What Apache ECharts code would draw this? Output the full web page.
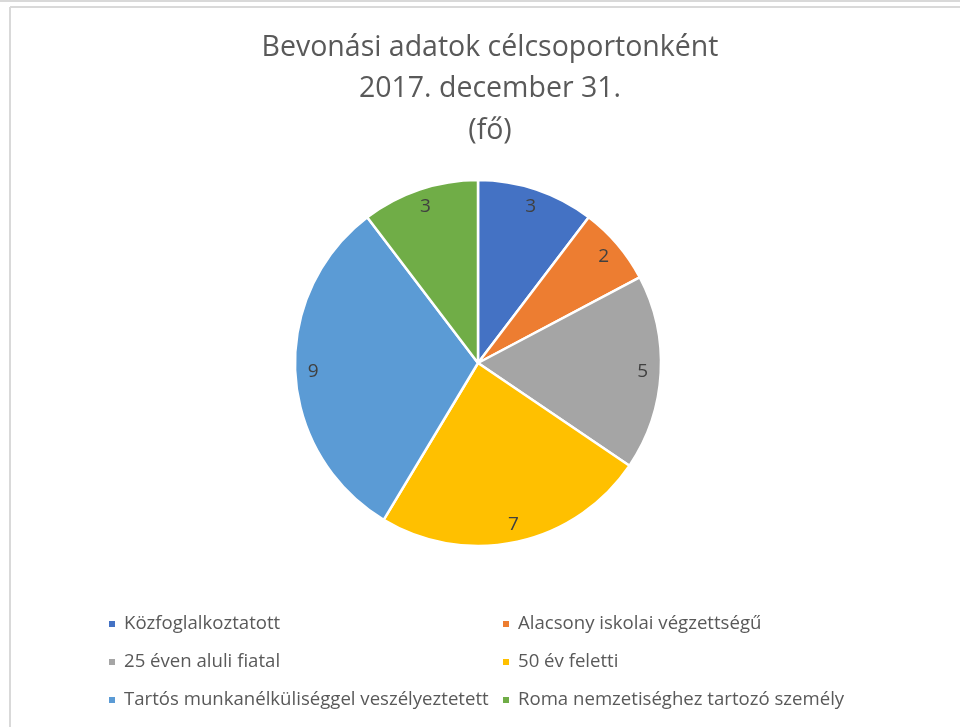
<!DOCTYPE html>
<html>
<head>
<meta charset="utf-8">
<script src="https://cdn.jsdelivr.net/npm/echarts@6/dist/echarts.min.js"></script>
<style>html,body{margin:0;padding:0;background:#fff;}#c{width:960px;height:727px;}</style>
</head>
<body>
<div id="c"></div>
<script>
const titleLines = ['Bevonási adatok célcsoportonként', '2017. december 31.', '(fő)'];
const categories = [
  'Közfoglalkoztatott',
  'Alacsony iskolai végzettségű',
  '25 éven aluli fiatal',
  '50 év feletti',
  'Tartós munkanélküliséggel veszélyeztetett',
  'Roma nemzetiséghez tartozó személy'
];
const values = [3, 2, 5, 7, 9, 3];
const colors = ['#4472C4', '#ED7D31', '#A5A5A5', '#FFC000', '#5B9BD5', '#70AD47'];

const FONT = '"Open Sans"';
const pieData = categories.map((n, i) => ({ name: n, value: values[i], itemStyle: { color: colors[i] } }));
const labelData = categories.map((n, i) => ({ name: n, value: values[i] }));

const chart = echarts.init(document.getElementById('c'), null, { renderer: 'canvas' });
chart.setOption({
  animation: false,
  backgroundColor: '#ffffff',
  graphic: [
    { type: 'rect', shape: { x: 0, y: 0, width: 960, height: 2 }, style: { fill: '#d9d9d9' }, silent: true },
    { type: 'line', shape: { x1: 10, y1: 7, x2: 960, y2: 7 }, style: { stroke: '#d9d9d9', lineWidth: 2 }, silent: true },
    { type: 'line', shape: { x1: 10, y1: 7, x2: 10, y2: 727 }, style: { stroke: '#d9d9d9', lineWidth: 2 }, silent: true }
  ],
  title: {
    text: titleLines.join('\n'),
    left: 490,
    textAlign: 'center',
    top: 27,
    padding: 0,
    textStyle: { fontFamily: FONT, fontSize: 28.5, fontWeight: 'normal', color: '#595959', lineHeight: 41.5 }
  },
  legend: [
    {
      data: [categories[0], categories[2], categories[4]],
      orient: 'vertical', left: 107, top: 614, padding: 0,
      itemWidth: 8, itemHeight: 8, icon: 'rect', itemGap: 18,
      textStyle: { fontFamily: FONT, fontSize: 18.6, color: '#595959', lineHeight: 20, padding: [0, 0, 0, 3] }
    },
    {
      data: [categories[1], categories[3], categories[5]],
      orient: 'vertical', left: 501, top: 614, padding: 0,
      itemWidth: 8, itemHeight: 8, icon: 'rect', itemGap: 18,
      textStyle: { fontFamily: FONT, fontSize: 18.6, color: '#595959', lineHeight: 20, padding: [0, 0, 0, 3] }
    }
  ],
  series: [
    {
      type: 'pie',
      center: [478, 363],
      radius: [0, 183],
      startAngle: 90,
      clockwise: true,
      data: pieData,
      label: { show: false },
      labelLine: { show: false },
      itemStyle: { borderColor: '#ffffff', borderWidth: 2.5 },
      emphasis: { disabled: true }
    },
    {
      type: 'pie',
      center: [478, 363],
      radius: [141, 183],
      startAngle: 90,
      clockwise: true,
      silent: true,
      legendHoverLink: false,
      data: labelData,
      itemStyle: { color: 'rgba(0,0,0,0)', borderWidth: 0 },
      label: { show: true, position: 'inside', formatter: '{c}', fontFamily: FONT, fontSize: 19, color: '#404040' },
      labelLine: { show: false },
      emphasis: { disabled: true }
    }
  ]
});
</script>
</body>
</html>
